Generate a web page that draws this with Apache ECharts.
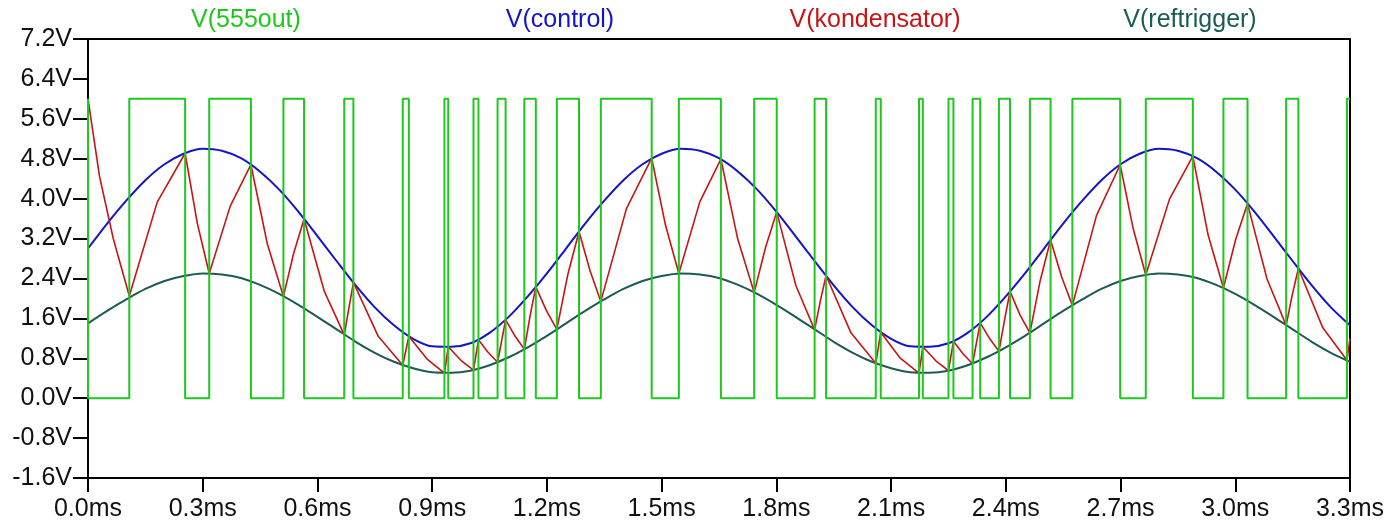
<!DOCTYPE html>
<html>
<head>
<meta charset="utf-8">
<script src="https://cdn.jsdelivr.net/npm/echarts@6/dist/echarts.min.js"></script>
<style>
  html, body { margin: 0; padding: 0; background: #fff; }
  #main { width: 1393px; height: 522px; }
</style>
</head>
<body>
<div id="main"></div>
<script>
// trace names and colours (LTspice style)
const traceNames = ['V(555out)', 'V(control)', 'V(kondensator)', 'V(reftrigger)']
const traceColors = ['#1ec81e', '#1414c8', '#c81414', '#1c5a55']

// V(555out): step output, level held from each time until the next one
const outTimes = [0, 0, 0.108, 0.254, 0.317, 0.426, 0.511, 0.565, 0.670, 0.694,
  0.823, 0.839, 0.932, 0.942, 1.008, 1.021, 1.071, 1.092, 1.141, 1.171,
  1.226, 1.284, 1.341, 1.474, 1.545, 1.655, 1.742, 1.801, 1.900, 1.930,
  2.060, 2.073, 2.173, 2.183, 2.250, 2.263, 2.313, 2.333, 2.382, 2.411,
  2.463, 2.517, 2.574, 2.699, 2.766, 2.889, 2.969, 3.032, 3.133, 3.165,
  3.292, 3.300]
const outLevels = [6, 0, 6, 0, 6, 0, 6, 0, 6, 0,
  6, 0, 6, 0, 6, 0, 6, 0, 6, 0,
  6, 0, 6, 0, 6, 0, 6, 0, 6, 0,
  6, 0, 6, 0, 6, 0, 6, 0, 6, 0,
  6, 0, 6, 0, 6, 0, 6, 0, 6, 0,
  6, 6]

// V(control) and V(reftrigger), sampled every 0.05ms
const sampleTimes = [0.00, 0.05, 0.10, 0.15, 0.20, 0.25, 0.30, 0.35, 0.40, 0.45,
  0.50, 0.55, 0.60, 0.65, 0.70, 0.75, 0.80, 0.85, 0.90, 0.95,
  1.00, 1.05, 1.10, 1.15, 1.20, 1.25, 1.30, 1.35, 1.40, 1.45,
  1.50, 1.55, 1.60, 1.65, 1.70, 1.75, 1.80, 1.85, 1.90, 1.95,
  2.00, 2.05, 2.10, 2.15, 2.20, 2.25, 2.30, 2.35, 2.40, 2.45,
  2.50, 2.55, 2.60, 2.65, 2.70, 2.75, 2.80, 2.85, 2.90, 2.95,
  3.00, 3.05, 3.10, 3.15, 3.20, 3.25, 3.30]
const controlVolts = [3.00, 3.50, 3.96, 4.37, 4.69, 4.90, 5.00, 4.96, 4.81, 4.54,
  4.18, 3.74, 3.25, 2.75, 2.26, 1.82, 1.46, 1.19, 1.04, 1.03,
  1.10, 1.31, 1.63, 2.04, 2.50, 3.00, 3.50, 3.96, 4.37, 4.69,
  4.90, 5.00, 4.96, 4.81, 4.54, 4.18, 3.74, 3.25, 2.75, 2.26,
  1.82, 1.46, 1.19, 1.04, 1.03, 1.10, 1.31, 1.63, 2.04, 2.50,
  3.00, 3.50, 3.96, 4.37, 4.69, 4.90, 5.00, 4.96, 4.81, 4.54,
  4.18, 3.74, 3.25, 2.75, 2.26, 1.82, 1.46]
const refVolts = [1.50, 1.75, 1.98, 2.19, 2.35, 2.45, 2.50, 2.48, 2.41, 2.27,
  2.09, 1.87, 1.63, 1.38, 1.13, 0.91, 0.73, 0.60, 0.52, 0.51,
  0.55, 0.66, 0.82, 1.02, 1.25, 1.50, 1.75, 1.98, 2.19, 2.35,
  2.45, 2.50, 2.48, 2.41, 2.27, 2.09, 1.87, 1.63, 1.38, 1.13,
  0.91, 0.73, 0.60, 0.52, 0.51, 0.55, 0.66, 0.82, 1.02, 1.25,
  1.50, 1.75, 1.98, 2.19, 2.35, 2.45, 2.50, 2.48, 2.41, 2.27,
  2.09, 1.87, 1.63, 1.38, 1.13, 0.91, 0.73]

// V(kondensator): peaks, troughs and one point inside each longer ramp
const capTimes = [0, 0.030, 0.066, 0.108, 0.181, 0.254, 0.286, 0.317, 0.372, 0.426,
  0.469, 0.511, 0.538, 0.565, 0.618, 0.670, 0.694, 0.759, 0.823, 0.839,
  0.886, 0.932, 0.942, 0.975, 1.008, 1.021, 1.046, 1.071, 1.092, 1.117,
  1.141, 1.156, 1.171, 1.199, 1.226, 1.255, 1.284, 1.313, 1.341, 1.408,
  1.474, 1.510, 1.545, 1.600, 1.655, 1.699, 1.742, 1.772, 1.801, 1.851,
  1.900, 1.915, 1.930, 1.995, 2.060, 2.073, 2.123, 2.173, 2.183, 2.217,
  2.250, 2.263, 2.288, 2.313, 2.333, 2.358, 2.382, 2.397, 2.411, 2.437,
  2.463, 2.490, 2.517, 2.546, 2.574, 2.637, 2.699, 2.733, 2.766, 2.828,
  2.889, 2.929, 2.969, 3.001, 3.032, 3.083, 3.133, 3.149, 3.165, 3.229,
  3.292, 3.300]
const capVolts = [6.00, 4.45, 3.20, 2.05, 3.93, 4.91, 3.50, 2.50, 3.85, 4.68,
  3.09, 2.04, 2.91, 3.59, 2.14, 1.27, 2.32, 1.24, 0.66, 1.24,
  0.79, 0.50, 1.03, 0.76, 0.56, 1.17, 0.92, 0.72, 1.57, 1.24,
  0.98, 1.65, 2.23, 1.75, 1.38, 2.49, 3.34, 2.55, 1.94, 3.80,
  4.81, 3.47, 2.50, 3.94, 4.79, 3.19, 2.12, 3.03, 3.73, 2.26,
  1.37, 1.95, 2.46, 1.31, 0.70, 1.32, 0.81, 0.50, 1.03, 0.75,
  0.55, 1.14, 0.89, 0.69, 1.51, 1.19, 0.94, 1.58, 2.14, 1.67,
  1.31, 2.36, 3.17, 2.43, 1.86, 3.66, 4.68, 3.40, 2.47, 3.99,
  4.85, 3.27, 2.21, 3.18, 3.90, 2.39, 1.46, 2.07, 2.60, 1.41,
  0.76, 1.20]

function pairs(xs, ys) {
  return xs.map((x, i) => [x, ys[i]])
}

const chart = echarts.init(document.getElementById('main'), null, { renderer: 'canvas' })

const fontFamily = '"Liberation Sans", Arial, sans-serif'
const legendCenters = [246, 560, 875, 1190]

const option = {
  animation: false,
  backgroundColor: '#fff',
  grid: {
    left: 88, top: 39, width: 1262, height: 440,
    show: true, borderColor: '#000', borderWidth: 2
  },
  graphic: traceNames.map((name, i) => ({
    type: 'text',
    x: legendCenters[i],
    y: 8,
    style: {
      text: name,
      fill: traceColors[i],
      font: '25px ' + fontFamily,
      textAlign: 'center',
      textVerticalAlign: 'top'
    }
  })),
  xAxis: {
    type: 'value',
    min: 0, max: 3.3, interval: 0.3,
    splitLine: { show: false },
    axisLine: { show: true, onZero: false, lineStyle: { color: '#000', width: 2 } },
    axisTick: { show: true, length: 14, lineStyle: { color: '#000', width: 2 } },
    axisLabel: {
      margin: 19, color: '#111', fontSize: 25, fontFamily: fontFamily,
      formatter: v => v.toFixed(1) + 'ms'
    }
  },
  yAxis: {
    type: 'value',
    min: -1.6, max: 7.2, interval: 0.8,
    splitLine: { show: false },
    axisLine: { show: true, onZero: false, lineStyle: { color: '#000', width: 2 } },
    axisTick: { show: true, length: 15, lineStyle: { color: '#000', width: 2 } },
    axisLabel: {
      margin: 16, color: '#111', fontSize: 25, fontFamily: fontFamily,
      formatter: v => (Math.abs(v) < 1e-9 ? 0 : v).toFixed(1) + 'V'
    }
  },
  series: [
    {
      name: traceNames[1], type: 'line', showSymbol: false, smooth: 0.3,
      data: pairs(sampleTimes, controlVolts),
      lineStyle: { color: traceColors[1], width: 2 }
    },
    {
      name: traceNames[3], type: 'line', showSymbol: false, smooth: 0.3,
      data: pairs(sampleTimes, refVolts),
      lineStyle: { color: traceColors[3], width: 2 }
    },
    {
      name: traceNames[2], type: 'line', showSymbol: false,
      data: pairs(capTimes, capVolts),
      lineStyle: { color: traceColors[2], width: 1.6 }
    },
    {
      name: traceNames[0], type: 'line', showSymbol: false, step: 'end',
      data: pairs(outTimes, outLevels),
      lineStyle: { color: traceColors[0], width: 2 }
    }
  ]
}

chart.setOption(option)
</script>
</body>
</html>
